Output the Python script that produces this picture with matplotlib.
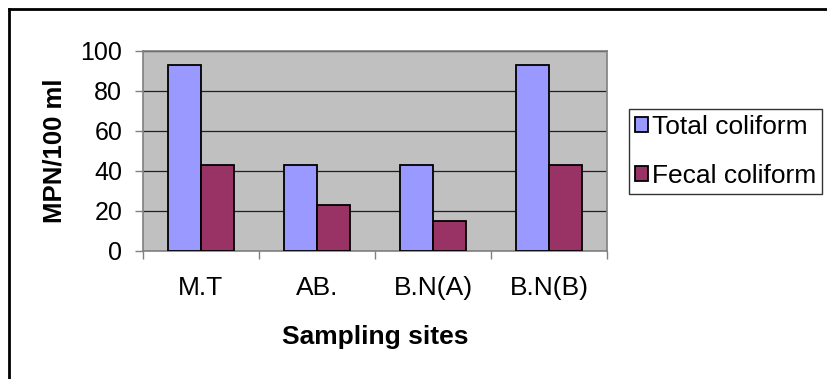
import matplotlib
matplotlib.use("Agg")
import matplotlib.pyplot as plt
from matplotlib.lines import Line2D
import numpy as np

plt.rcParams['font.family'] = ['Liberation Sans', 'DejaVu Sans']

sites = ['M.T', 'AB.', 'B.N(A)', 'B.N(B)']
total_coliform = [93, 43, 43, 93]
fecal_coliform = [43, 23, 15, 43]
y_ticks = [0, 20, 40, 60, 80, 100]

W, H = 827, 379
fig = plt.figure(figsize=(W / 100, H / 100), dpi=100)
fig.patch.set_facecolor('white')

# plot area in pixel terms
left, right, top, bottom = 143, 607, 51, 251
ax = fig.add_axes([left / W, 1 - bottom / H, (right - left) / W, (bottom - top) / H])
ax.set_facecolor('#C0C0C0')

x = np.arange(len(sites))
bw = 0.285
ax.bar(x - bw / 2, total_coliform, bw, color='#9999FF', edgecolor='black',
       linewidth=1.3, label='Total coliform', zorder=3)
ax.bar(x + bw / 2, fecal_coliform, bw, color='#993366', edgecolor='black',
       linewidth=1.3, label='Fecal coliform', zorder=3)

ax.set_xlim(-0.5, len(sites) - 0.5)
ax.set_ylim(0, 100)
ax.set_yticks(y_ticks)
ax.yaxis.grid(True, color='#202020', linewidth=0.9, zorder=1)
ax.set_axisbelow(True)

ax.set_xticks(x)
ax.set_xticklabels(sites, fontsize=19)
ax.set_xticks(np.arange(-0.5, len(sites)), minor=True)
ax.tick_params(axis='x', which='major', length=0, pad=18)
ax.tick_params(axis='x', which='minor', length=6, width=1, color='#808080', direction='out')
ax.tick_params(axis='y', labelsize=18, length=6, width=1, color='#808080', pad=9)

for s in ax.spines.values():
    s.set_color('#808080')
    s.set_linewidth(1.2)

ax.set_xlabel('Sampling sites', fontsize=19, fontweight='bold', labelpad=18)
ax.set_ylabel('MPN/100 ml', fontsize=18.5, fontweight='bold', labelpad=10)

leg = ax.legend(loc='upper left', bbox_to_anchor=(629 / W, 1 - 109 / H),
                bbox_transform=fig.transFigure, fontsize=19, frameon=True,
                fancybox=False, borderpad=0.22, handlelength=0.5, handleheight=0.5,
                handletextpad=0.15, labelspacing=0.95, borderaxespad=0)
leg.get_frame().set_edgecolor('black')
leg.get_frame().set_linewidth(1.0)

# chart frame: only top and left edges fall inside the canvas
fig.add_artist(Line2D([9 / W, 1], [1 - 9 / H, 1 - 9 / H], color='black', linewidth=2,
                      transform=fig.transFigure))
fig.add_artist(Line2D([9 / W, 9 / W], [1 - 9 / H, 0], color='black', linewidth=2,
                      transform=fig.transFigure))

fig.savefig('out.png', dpi=100)
